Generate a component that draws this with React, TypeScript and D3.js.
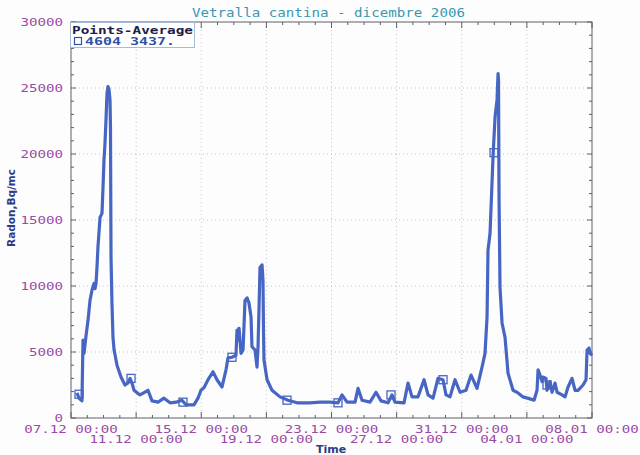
import React from "react";
import * as d3 from "d3";

// Hours since 07.12.2006 00:00
const hours = [
  8.8, 11.8, 16.2, 17.7, 19.2, 22.1, 25.1, 28.0, 31.0, 33.9, 35.4, 36.9, 38.3, 39.8, 42.8, 45.7, 47.2, 48.6, 50.1, 51.6,
  53.1, 54.5, 56.0, 57.5, 58.2, 59.0, 60.4, 61.9, 63.4, 67.8, 73.7, 79.6, 84.0, 87.0, 89.9, 92.9, 101.7, 113.5, 119.4, 128.3,
  137.1, 146.0, 154.8, 163.6, 169.5, 181.3, 187.2, 191.6, 196.1, 202.0, 209.3, 215.2, 222.6, 228.5, 231.4, 237.3, 243.2, 244.7, 246.2, 247.7,
  250.6, 253.6, 256.5, 259.5, 262.4, 265.4, 266.8, 271.2, 274.2, 275.7, 277.1, 278.6, 281.6, 283.0, 283.8, 284.5, 289.0, 296.3, 308.1, 319.9,
  333.2, 352.3, 367.1, 381.8, 393.6, 399.5, 406.9, 418.7, 423.1, 429.0, 440.8, 449.6, 457.0, 467.3, 473.2, 477.6, 490.9, 496.8, 502.7, 511.5,
  520.4, 526.3, 533.7, 541.0, 548.4, 552.8, 558.7, 566.1, 573.5, 582.3, 589.7, 598.5, 605.9, 610.3, 613.3, 614.7, 617.7, 620.6, 622.1, 625.1,
  628.0, 629.5, 630.2, 631.0, 632.4, 635.4, 639.8, 644.2, 651.6, 659.0, 666.3, 676.7, 682.6, 687.0, 688.5, 691.4, 694.4, 695.8, 700.2, 701.7,
  706.1, 709.1, 713.5, 716.5, 723.8, 728.3, 732.7, 738.6, 743.0, 747.4, 754.8, 759.2, 760.7, 763.6, 765.1, 768.1,
];

// Radon, Bq/mc
const radon = [
  1900, 1500, 1300, 5900, 4900, 6200, 7400, 8900, 9700, 10200, 9800, 10200, 11400, 13000, 15200, 15500, 17500, 19500, 20800, 22600,
  24600, 25100, 24900, 24100, 22000, 12200, 8700, 6100, 5200, 4000, 3100, 2500, 2650, 3000, 2650, 2100, 1750, 2100, 1300, 1200,
  1500, 1150, 1200, 1350, 1000, 1000, 1500, 2100, 2300, 2900, 3500, 2900, 2350, 3650, 4550, 4600, 4750, 6650, 5900, 6800,
  4900, 5150, 8900, 9100, 8700, 7650, 5400, 5150, 3850, 5400, 8200, 11400, 11600, 10450, 6450, 4400, 2900, 2100, 1600, 1350,
  1150, 1150, 1200, 1200, 1150, 1750, 1200, 1200, 2250, 1350, 1200, 1950, 1300, 1150, 1750, 1200, 1150, 2650, 1600, 1600,
  2900, 1750, 1500, 3000, 2900, 1750, 1600, 2900, 1950, 2100, 3250, 2250, 3850, 4900, 7650, 12700, 14000, 17800, 19800, 22800,
  24100, 26100, 25600, 16500, 9900, 7200, 6100, 3400, 2100, 1900, 1600, 1450, 1350, 2100, 3650, 3250, 2750, 3100, 3000, 2100,
  2750, 1950, 2650, 1950, 1750, 1600, 2350, 3000, 2100, 2100, 2500, 2900, 5150, 5300, 4900, 4750,
];

const markerHours = [11.8, 88.5, 165.1, 237.3, 318.4, 393.6, 471.7, 548.4, 623.6, 701.7];
const markerValues = [1800, 3000, 1200, 4600, 1350, 1150, 1750, 2900, 20100, 2500];

const yTicks = [0, 5000, 10000, 15000, 20000, 25000, 30000];
const xTickHours = [0, 96, 192, 288, 384, 480, 576, 672, 768];
const xTickLabels = [
  "07.12 00:00", "11.12 00:00", "15.12 00:00", "19.12 00:00", "23.12 00:00",
  "27.12 00:00", "31.12 00:00", "04.01 00:00", "08.01 00:00",
];

const titleText = "Vetralla cantina - dicembre 2006";
const legendTitle = "Points-Average";
const legendValues = "4604 3437.";

const MONO = "'DejaVu Sans Mono', 'Liberation Mono', monospace";
const SANS = "'DejaVu Sans', Verdana, sans-serif";
const CH = 8.5;

export default function App() {
  const W = 640, H = 455;
  const x = d3.scaleLinear().domain([0, 768]).range([71, 592]);
  const y = d3.scaleLinear().domain([0, 30000]).range([418, 22]);
  const pts: [number, number][] = hours.map((h, i) => [h, radon[i]]);
  const line = d3.line<[number, number]>().x((d) => x(d[0])).y((d) => y(d[1]));

  const x0 = x.range()[0], x1 = x.range()[1];
  const y0 = y.range()[0], y1 = y.range()[1];
  const minorY = d3.range(0, 30001, 1000);
  const minorX = d3.range(0, 769, 24);
  const lineColor = "#4766c4";
  const axisColor = "#5e5e6c";
  const purple = "#9a4aa6";
  const navy = "#2c3c86";

  return (
    <svg width={W} height={H} style={{ position: "absolute", left: 0, top: 0, background: "#fdfdfd" }}>
      <rect x={0} y={0} width={W} height={H} fill="#fdfdfd" />
      {/* grid */}
      {yTicks.slice(1, -1).map((t) => (
        <line key={"gy" + t} x1={x0} x2={x1} y1={y(t)} y2={y(t)} stroke="#c4c4cc" strokeDasharray="1,3" />
      ))}
      {xTickHours.slice(1, -1).map((t) => (
        <line key={"gx" + t} x1={x(t)} x2={x(t)} y1={y1} y2={y0} stroke="#c4c4cc" strokeDasharray="1,3" />
      ))}
      {/* frame */}
      <rect x={x0} y={y1} width={x1 - x0} height={y0 - y1} fill="none" stroke={axisColor} strokeWidth={1} />
      {/* y ticks */}
      {minorY.map((t) => {
        const major = t % 5000 === 0;
        const len = major ? 5 : 3;
        return (
          <g key={"ty" + t}>
            <line x1={x0} x2={x0 + len} y1={y(t)} y2={y(t)} stroke={axisColor} />
            <line x1={x1} x2={x1 - len} y1={y(t)} y2={y(t)} stroke={axisColor} />
          </g>
        );
      })}
      {/* x ticks */}
      {minorX.map((t) => {
        const major = t % 96 === 0;
        const len = major ? 6 : 3;
        return (
          <g key={"tx" + t}>
            <line x1={x(t)} x2={x(t)} y1={y0} y2={y0 - len} stroke={axisColor} />
            <line x1={x(t)} x2={x(t)} y1={y1} y2={y1 + len} stroke={axisColor} />
          </g>
        );
      })}
      {/* y labels */}
      {yTicks.map((t) => {
        const s = String(t);
        return (
          <text key={"ly" + t} x={63} y={y(t) + 3.5} textAnchor="end" fontFamily={MONO} fontSize={11}
            fill={purple} textLength={s.length * CH} lengthAdjust="spacingAndGlyphs">{s}</text>
        );
      })}
      {/* x labels */}
      {xTickHours.map((t, i) => {
        const s = xTickLabels[i];
        const w = s.length * CH;
        return (
          <text key={"lx" + t} x={x(t) - w / 2} y={i % 2 === 0 ? 433 : 443} fontFamily={MONO} fontSize={11}
            fill={purple} textLength={w} lengthAdjust="spacingAndGlyphs">{s}</text>
        );
      })}
      {/* axis titles */}
      <text x={331} y={453} textAnchor="middle" fontFamily={SANS} fontSize={11} fontWeight="bold" fill={navy}>Time</text>
      <text transform="translate(15,208) rotate(-90)" textAnchor="middle" fontFamily={SANS} fontSize={10.5} fontWeight="bold" fill={navy}>Radon,Bq/mc</text>
      {/* title */}
      <text x={192} y={17} fontFamily={MONO} fontSize={11.5} fill="#3898b2" textLength={273} lengthAdjust="spacingAndGlyphs">{titleText}</text>
      {/* data line */}
      <path d={line(pts) || ""} fill="none" stroke={lineColor} strokeWidth={3.2} strokeLinejoin="round" />
      {markerHours.map((h, i) => (
        <rect key={"m" + i} x={x(h) - 4} y={y(markerValues[i]) - 4} width={8} height={8} fill="none" stroke={lineColor} strokeWidth={1.3} />
      ))}
      {/* legend */}
      <rect x={70.5} y={22.5} width={124} height={25} fill="#ffffff" stroke="#a8b8d8" />
      <text x={72} y={33.5} fontFamily={MONO} fontSize={10} fontWeight="bold" fill="#1c2048" textLength={121} lengthAdjust="spacingAndGlyphs">{legendTitle}</text>
      <rect x={74.5} y={37.5} width={7} height={7} fill="none" stroke="#3050a8" strokeWidth={1.2} />
      <text x={85} y={45} fontFamily={MONO} fontSize={10} fontWeight="bold" fill="#3050a8" textLength={90} lengthAdjust="spacingAndGlyphs">{legendValues}</text>
    </svg>
  );
}
